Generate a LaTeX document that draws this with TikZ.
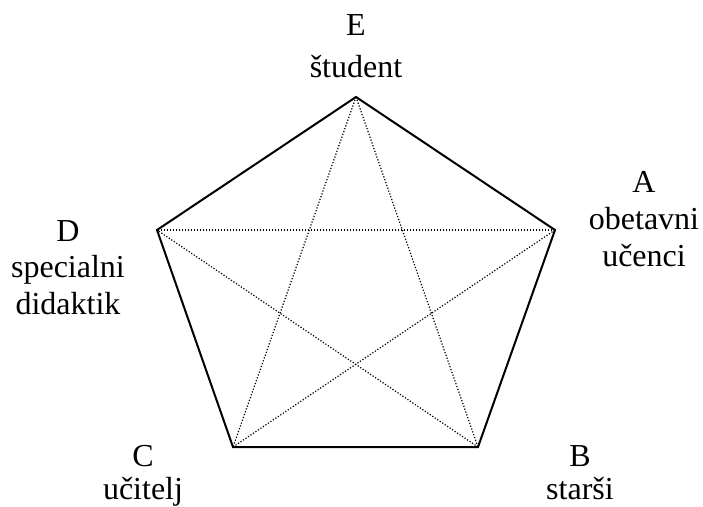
\documentclass[tikz,border=0pt]{standalone}
\usepackage{fontspec}
\setmainfont{Liberation Serif}
\begin{document}
\begin{tikzpicture}[x=1pt,y=-1pt,
  lbl/.style={anchor=base,inner sep=0pt,font=\fontsize{32}{38}\selectfont},
  side/.style={line width=2pt,line join=miter},
  diag/.style={line width=1.2pt,dash pattern=on 1.2pt off 1.8pt}]
\useasboundingbox (0,0) rectangle (703,506);
\coordinate (E) at (356,97);
\coordinate (A) at (555,230);
\coordinate (B) at (478,447);
\coordinate (C) at (233,447);
\coordinate (D) at (157,230);
\draw[side] (E) -- (A) -- (B) -- (C) -- (D) -- cycle;
\draw[diag] (E) -- (B);
\draw[diag] (E) -- (C);
\draw[diag] (A) -- (C);
\draw[diag] (A) -- (D);
\draw[diag] (B) -- (D);
\node[lbl] (e1) at (356,35) {E};
\node[lbl] (e2) at (356,77) {študent};
\node[lbl] (a1) at (644,192) {A};
\node[lbl] (a2) at (644,229) {obetavni};
\node[lbl] (a3) at (644,266) {učenci};
\node[lbl] (d1) at (68,241) {D};
\node[lbl] (d2) at (68,277) {specialni};
\node[lbl] (d3) at (68,314) {didaktik};
\node[lbl] (c1) at (143,466) {C};
\node[lbl] (c2) at (143,499) {učitelj};
\node[lbl] (b1) at (580,466) {B};
\node[lbl] (b2) at (580,499) {starši};
\end{tikzpicture}
\end{document}
